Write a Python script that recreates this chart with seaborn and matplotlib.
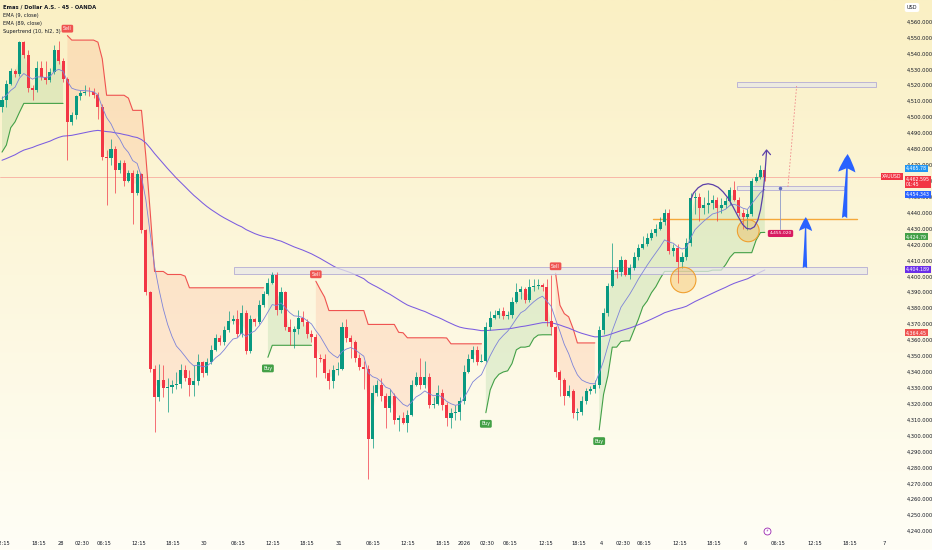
import numpy as np
import pandas as pd
import matplotlib
matplotlib.use('Agg')
import matplotlib.pyplot as plt
import matplotlib.transforms as mtransforms
from matplotlib.patches import Rectangle, Ellipse, FancyArrowPatch
import seaborn as sns

sns.set_theme(style='white')
plt.rcParams['font.family'] = ['DejaVu Sans']

# XAUUSD 45m candles (open = previous close)
first_open = 4506
closes = [4511, 4521, 4529, 4527, 4547, 4539, 4518, 4517, 4531, 4525,
          4523, 4528, 4542, 4535, 4524, 4497, 4501, 4513, 4515, 4516,
          4515.5, 4514, 4506, 4475, 4474, 4480, 4467, 4471, 4460, 4465,
          4452, 4464, 4429, 4390, 4342, 4324, 4335, 4330, 4330.5, 4332,
          4332.3, 4341, 4336, 4332, 4334, 4346, 4339, 4346, 4354, 4361,
          4359, 4366, 4372, 4373, 4364, 4377, 4353, 4373, 4371, 4382,
          4389, 4396, 4401, 4379, 4390, 4368, 4365, 4367, 4374, 4371,
          4364, 4362, 4349, 4348, 4339, 4334, 4341, 4342, 4368, 4361,
          4359, 4349, 4343, 4342, 4298, 4327, 4332, 4325, 4317, 4325,
          4310, 4311, 4308, 4313, 4332, 4337, 4332, 4337, 4319, 4320,
          4327, 4319, 4311, 4314, 4315, 4322, 4340, 4348, 4354, 4346,
          4347, 4368, 4374, 4376, 4378, 4375, 4376, 4384, 4390, 4392,
          4385, 4393, 4394, 4394.5, 4393, 4372, 4368, 4340, 4335, 4325,
          4328, 4314, 4315, 4322, 4328, 4329, 4332, 4366, 4377, 4394,
          4404, 4403, 4410, 4401, 4405, 4412, 4418, 4420, 4424, 4427,
          4430, 4434, 4440, 4416, 4418, 4409, 4412, 4421, 4449, 4450,
          4443, 4445, 4446, 4448, 4443, 4445, 4447, 4454, 4448, 4440,
          4437, 4439, 4460, 4462.5, 4467, 4462.6]
highs = [4513, 4523, 4531, 4530, 4548, 4548, 4542, 4520, 4535, 4535,
         4535, 4531, 4545, 4548, 4537, 4525, 4503, 4514, 4517, 4520,
         4519, 4518, 4516, 4508, 4479, 4486, 4482, 4473, 4473, 4467,
         4467, 4467, 4465, 4430, 4391, 4344, 4345, 4344, 4336, 4335,
         4340, 4345, 4344, 4341, 4344, 4351, 4347, 4349, 4357, 4364,
         4363, 4369, 4378, 4376, 4379, 4382, 4379, 4376, 4374, 4385,
         4391, 4399, 4403, 4403, 4393, 4391, 4373, 4369, 4379, 4378,
         4373, 4366, 4364, 4351, 4351, 4342, 4344, 4346, 4371, 4373,
         4363, 4360, 4351, 4347, 4344, 4332, 4335, 4336, 4327, 4329,
         4327, 4313, 4315, 4316, 4335, 4340, 4349, 4347, 4339, 4324,
         4332, 4329, 4321, 4317, 4319, 4324, 4344, 4351, 4356, 4356,
         4351, 4371, 4378, 4379, 4380, 4381, 4378, 4387, 4396, 4394,
         4393, 4398, 4398, 4398, 4396, 4398, 4401, 4369, 4341, 4336,
         4332, 4329, 4317, 4325, 4330, 4331, 4335, 4369, 4380, 4396,
         4421, 4406, 4413, 4411, 4408, 4415, 4420, 4425, 4427, 4430,
         4433, 4437, 4442, 4442, 4420, 4420, 4415, 4424, 4452, 4453,
         4452, 4450, 4454, 4451, 4450, 4449, 4450, 4456, 4460, 4450,
         4442, 4442, 4462, 4465, 4470, 4469]
lows = [4503, 4506, 4520, 4525, 4526, 4537, 4516, 4511, 4516, 4523,
        4521, 4522, 4527, 4533, 4522, 4473, 4495, 4499, 4511, 4514,
        4513, 4512, 4499, 4473, 4445, 4470, 4452, 4465, 4457, 4459,
        4433, 4451, 4427, 4388, 4340, 4302, 4322, 4324, 4315, 4327,
        4329, 4330, 4334, 4325, 4325, 4332, 4337, 4338, 4345, 4353,
        4357, 4357, 4365, 4370, 4362, 4362, 4351, 4352, 4369, 4370,
        4381, 4388, 4395, 4376, 4377, 4366, 4357, 4355, 4364, 4369,
        4361, 4359, 4337, 4346, 4336, 4329, 4330, 4338, 4341, 4359,
        4349, 4346, 4341, 4329, 4273, 4292, 4325, 4322, 4305, 4315,
        4307, 4303, 4307, 4302, 4312, 4331, 4329, 4330, 4317, 4317,
        4319, 4316, 4306, 4305, 4310, 4310, 4320, 4339, 4346, 4344,
        4346, 4346, 4366, 4373, 4374, 4373, 4373, 4374, 4383, 4386,
        4383, 4384, 4391, 4392, 4391, 4369, 4363, 4337, 4325, 4319,
        4324, 4311, 4310, 4313, 4320, 4326, 4327, 4330, 4364, 4375,
        4393, 4399, 4400, 4400, 4398, 4404, 4410, 4417, 4419, 4423,
        4425, 4429, 4432, 4414, 4413, 4396, 4405, 4410, 4419, 4439,
        4435, 4439, 4440, 4442, 4435, 4440, 4443, 4445, 4447, 4438,
        4430, 4429, 4438, 4459, 4461, 4460]

# indicator start values read at the left edge of the chart
ema_fast_start = 4512
ema_slow_start = 4472
atr_start = 10

time_ticks = [0.1, 8.5, 13.5, 18.3, 23.4, 31.4, 39.2, 46.3, 54.1, 62.2,
              70.0, 77.3, 85.1, 93.1, 101.1, 106.0, 111.2, 116.5, 124.8, 132.3,
              137.4, 142.4, 147.2, 155.5, 163.3, 170.4, 178.0, 186.5, 194.5, 202.3]
time_labels = ['12:15', '18:15', '28', '02:30', '06:15', '12:15', '18:15', '30', '06:15', '12:15',
               '18:15', '31', '06:15', '12:15', '18:15', '2026', '02:30', '06:15', '12:15', '18:15',
               '4', '02:30', '06:15', '12:15', '18:15', '6', '06:15', '12:15', '18:15', '7']
price_ticks = list(range(4240, 4561, 10))

side_texts = ['4,465.78', '4,462.595\n01:45', '4,454.343', '4,424.79', '4,404.189', '4,364.45']
side_prices = [4465.78, 4462.595, 4454.343, 4424.79, 4404.189, 4364.45]
side_colors = ['#2196f3', '#f23645', '#2962ff', '#43a047', '#6a2ee8', '#ef5350']
last_price = 4462.595


def main():
    c = np.array(closes, float)
    h = np.array(highs, float)
    l = np.array(lows, float)
    o = np.r_[first_open, c[:-1]]
    n = len(c)
    x = np.arange(n)

    # EMAs
    ema9 = pd.Series([ema_fast_start] + closes).ewm(span=9, adjust=False).mean().iloc[1:].to_numpy()
    ema89 = pd.Series([ema_slow_start] + closes).ewm(span=89, adjust=False).mean().iloc[1:].to_numpy()

    # Supertrend (10, hl2, 3)
    hl2 = (h + l) / 2
    tr = np.maximum.reduce([h - l, np.abs(h - o), np.abs(l - o)])
    atr = np.empty(n)
    a = atr_start
    for i in range(n):
        a = (a * 9 + tr[i]) / 10
        atr[i] = a
    basic_up = hl2 - 3 * atr
    basic_dn = hl2 + 3 * atr
    up, dn = basic_up.copy(), basic_dn.copy()
    trend = np.ones(n, int)
    for i in range(1, n):
        if c[i - 1] > up[i - 1]:
            up[i] = max(basic_up[i], up[i - 1])
        if c[i - 1] < dn[i - 1]:
            dn[i] = min(basic_dn[i], dn[i - 1])
        trend[i] = trend[i - 1]
        if trend[i - 1] == -1 and c[i] > dn[i - 1]:
            trend[i] = 1
        elif trend[i - 1] == 1 and c[i] < up[i - 1]:
            trend[i] = -1
    st = np.where(trend == 1, up, dn)

    fig = plt.figure(figsize=(9.32, 5.5), dpi=100)
    bg = fig.add_axes([0, 0, 1, 1], zorder=-1)
    top = np.array([250, 240, 196]) / 255
    bottom = np.array([255, 254, 246]) / 255
    g = np.linspace(0, 1, 256)[:, None, None]
    bg.imshow(top + (bottom - top) * g, aspect='auto', extent=[0, 1, 0, 1])
    bg.axis('off')

    ax = fig.add_axes([0, 13 / 550, 903 / 932, 537 / 550])
    ax.patch.set_alpha(0)
    for s in ax.spines.values():
        s.set_visible(False)

    # supertrend fill + lines
    mid = (o + c) / 2
    ax.fill_between(x, st, mid, where=trend == 1, color='#66bb6a', alpha=0.17, lw=0, zorder=1)
    ax.fill_between(x, st, mid, where=trend == -1, color='#ff8a65', alpha=0.17, lw=0, zorder=1)
    ax.plot(x, np.where(trend == 1, st, np.nan), color='#43a047', lw=0.8, zorder=2)
    ax.plot(x, np.where(trend == -1, st, np.nan), color='#ef5350', lw=0.8, zorder=2)

    # EMA lines
    df = pd.DataFrame({'idx': x, 'ema9': ema9, 'ema89': ema89})
    sns.lineplot(data=df, x='idx', y='ema9', ax=ax, color='#7d83d8', lw=0.6, zorder=5)
    sns.lineplot(data=df, x='idx', y='ema89', ax=ax, color='#7b5ce0', lw=0.75, zorder=2)

    # candles
    colors = np.where(c >= o, '#089981', '#f23645')
    ax.vlines(x, l, h, colors=colors, lw=0.5, zorder=3)
    ax.bar(x, np.maximum(np.abs(c - o), 0.4), bottom=np.minimum(o, c), width=0.7,
           color=colors, lw=0, zorder=4)

    # buy / sell signals
    for i in np.flatnonzero(np.diff(trend)) + 1:
        if trend[i] == 1:
            ax.annotate('Buy', (i, st[i]), xytext=(0, -8), textcoords='offset points',
                        ha='center', va='center', fontsize=3.4, color='white', zorder=8,
                        bbox=dict(boxstyle='round,pad=0.3', fc='#43a047', ec='none'))
        else:
            ax.annotate('Sell', (i, st[i]), xytext=(0, 5), textcoords='offset points',
                        ha='center', va='center', fontsize=3.4, color='white', zorder=8,
                        bbox=dict(boxstyle='round,pad=0.3', fc='#ef5350', ec='none'))

    # last price line
    ax.axhline(last_price, color='#f23645', lw=0.5, alpha=0.45, zorder=2)

    # drawn zones and levels
    for x0, x1, y0, y1 in [(53.2, 198.4, 4401.5, 4406.0), (168.6, 200.5, 4518.7, 4522.2),
                           (168.6, 193.1, 4454.2, 4456.6)]:
        ax.add_patch(Rectangle((x0, y0), x1 - x0, y1 - y0, fc=(0.91, 0.91, 0.91, 0.75),
                               ec='#b4acd4', lw=0.6, zorder=2))
    ax.plot([149.3, 196.1], [4436, 4436], color='#f5a83a', lw=1.0, zorder=2)
    for (cx, cy), w, hh in [((156.3, 4397.7), 5.8, 16.0), ((171.2, 4428.6), 5.0, 13.8)]:
        ax.add_patch(Ellipse((cx, cy), w, hh, fc=(0.96, 0.66, 0.2, 0.3), ec='#f0a030', lw=0.8, zorder=6))

    curve_x = [158.0, 158.6, 159.7, 160.8, 162.0, 163.1, 164.3, 165.4, 166.6, 167.7, 168.9,
               169.9, 170.8, 171.7, 172.6, 173.4, 174.0, 174.5, 174.9, 175.2, 175.4]
    curve_y = [4447.9, 4452.1, 4455.6, 4457.5, 4458.1, 4457.5, 4455.9, 4453.1, 4449.0, 4443.7, 4437.4,
               4432.6, 4430.1, 4429.7, 4431.1, 4435.3, 4441.6, 4450.0, 4460.5, 4470.9, 4478.8]
    ax.plot(curve_x, curve_y, color='#5b3fa8', lw=0.9, zorder=7, solid_capstyle='round')
    ax.plot([174.5, 175.4, 176.3], [4476.0, 4479.3, 4476.4], color='#5b3fa8', lw=0.9, zorder=7)

    ax.plot([178.4, 178.4], [4429.7, 4455.4], color='#8d99c9', lw=0.6, zorder=5)
    ax.plot(178.4, 4455.4, 'o', ms=1.5, color='#5c6bc0', zorder=5)
    ax.annotate('4,455.020', (178.6, 4426.9), ha='center', va='center', fontsize=3.2,
                color='white', zorder=8,
                bbox=dict(boxstyle='round,pad=0.35', fc='#d81b60', ec='none'))
    ax.plot([180.3, 182.3], [4456.1, 4519.5], color='#ef8a8a', lw=0.6, ls=(0, (2, 2)), zorder=5)

    ax.add_patch(FancyArrowPatch((193.3, 4436.6), (194.0, 4476.8), shrinkA=0, shrinkB=0,
                                 arrowstyle='fancy,head_length=13,head_width=12.5,tail_width=3.8',
                                 color='#2962ff', lw=0, zorder=7))
    ax.add_patch(FancyArrowPatch((184.2, 4405.2), (184.4, 4437.2), shrinkA=0, shrinkB=0,
                                 arrowstyle='fancy,head_length=10,head_width=9.5,tail_width=3.2',
                                 color='#2962ff', lw=0, zorder=7))

    # axes
    ax.set_xlim(-0.46, 206.7)
    ax.set_ylim(4236.3, 4573.5)
    ax.set_xlabel('')
    ax.set_ylabel('')
    ax.set_xticks(time_ticks)
    ax.set_xticklabels(time_labels)
    ax.yaxis.tick_right()
    ax.set_yticks(price_ticks)
    ax.set_yticklabels([f'{v:,.3f}' for v in price_ticks])
    ax.tick_params(axis='y', length=0, pad=3, labelsize=3.7, labelcolor='#131722')
    ax.tick_params(axis='x', length=0, pad=3, labelsize=3.7, labelcolor='#131722')

    # price labels on the scale (stacked ones are nudged apart as on the screen)
    trans = mtransforms.blended_transform_factory(ax.transAxes, ax.transData)
    offsets = [2.2, -3.6, -3.4, 0, 0, 0]
    for txt, p, col, dy in zip(side_texts, side_prices, side_colors, offsets):
        ax.annotate(txt, (1.0, p), xycoords=trans, xytext=(2.2, dy), textcoords='offset points',
                    ha='left', va='center', fontsize=3.4, color='white', zorder=9,
                    annotation_clip=False, linespacing=1.05,
                    bbox=dict(boxstyle='square,pad=0.2', fc=col, ec='none'))
    ax.annotate('XAUUSD', (1.0, last_price), xycoords=trans, xytext=(-1, 0),
                textcoords='offset points', ha='right', va='center', fontsize=3.3,
                color='white', zorder=9, annotation_clip=False,
                bbox=dict(boxstyle='square,pad=0.3', fc='#f23645', ec='none'))
    fig.text(912 / 932, 1 - 7.5 / 550, 'USD', ha='center', va='center', fontsize=3.6,
             color='#131722', bbox=dict(boxstyle='round,pad=0.4', fc='white', ec='none'))

    # event icon
    ax.plot(175.5, 4240.3, 'o', ms=5, mfc='white', mec='#9c27b0', mew=0.6, zorder=8)
    ax.text(175.5, 4240.3, '⚡', ha='center', va='center', fontsize=3, color='#9c27b0', zorder=9)

    # legend
    legend = ['Emas / Dollar A.S. · 45 · OANDA', 'EMA (9, close)', 'EMA (89, close)',
              'Supertrend (10, hl2, 3)']
    for k, t in enumerate(legend):
        ax.text(3 / 903, 1 - (7.3 + 8 * k) / 537, t, transform=ax.transAxes, ha='left',
                va='center', fontsize=3.8 if k == 0 else 3.6, color='#131722',
                fontweight='semibold' if k == 0 else 'normal', zorder=9)

    fig.savefig('out.png', dpi=100)


if __name__ == '__main__':
    main()
